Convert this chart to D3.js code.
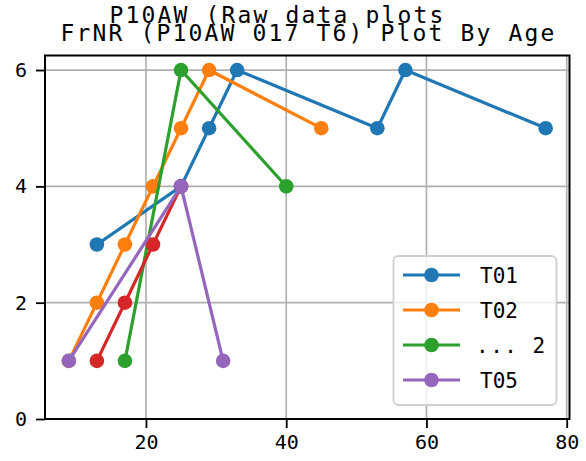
<!DOCTYPE html>
<html>
<head>
<meta charset="utf-8">
<script src="https://cdn.jsdelivr.net/npm/d3@7"></script>
<style>
  html, body { margin: 0; padding: 0; background: #fff; }
  svg { display: block; }
  text { font-family: "DejaVu Sans Mono", "Liberation Mono", monospace; fill: #000; }
</style>
</head>
<body>
<svg id="chart" width="586" height="461"></svg>
<script>
// ---- data ----
const seriesNames = ["T01", "T02", "... 2", "T04", "T05"];
const seriesColors = ["#1f77b4", "#ff7f0e", "#2ca02c", "#d62728", "#9467bd"];
const t01Ages = [13, 25, 29, 33, 53, 57, 77];
const t01Values = [3, 4, 5, 6, 5, 6, 5];
const t02Ages = [9, 13, 17, 21, 25, 29, 45];
const t02Values = [1, 2, 3, 4, 5, 6, 5];
const t03Ages = [17, 25, 40];
const t03Values = [1, 6, 4];
const t04Ages = [13, 17, 21, 25];
const t04Values = [1, 2, 3, 4];
const t05Ages = [9, 25, 31];
const t05Values = [1, 4, 1];
const legendSeries = [0, 1, 2, 4];
const xTicks = [20, 40, 60, 80];
const yTicks = [0, 2, 4, 6];
const titleTop = "P10AW (Raw data plots";
const titleMain = "FrNR (P10AW 017 T6) Plot By Age";

const series = [
  {ages: t01Ages, values: t01Values},
  {ages: t02Ages, values: t02Values},
  {ages: t03Ages, values: t03Values},
  {ages: t04Ages, values: t04Values},
  {ages: t05Ages, values: t05Values}
].map((s, i) => ({name: seriesNames[i], color: seriesColors[i],
  points: s.ages.map((a, j) => ({x: a, y: s.values[j]}))}));

// ---- layout ----
const svg = d3.select("#chart");
const pL = 45, pR = 569.5, pT = 55.5, pB = 419;
const allX = series.flatMap(s => s.points.map(p => p.x));
const xMin = d3.min(allX), xMax = d3.max(allX);
const xPad = (xMax - xMin) * 0.05;
const x = d3.scaleLinear().domain([xMin - xPad, xMax + xPad]).range([pL, pR]);
const y = d3.scaleLinear().domain([0, 6.25]).range([pB, pT]);
const monoFont = '"DejaVu Sans Mono", "Liberation Mono", monospace';

// grid
const grid = svg.append("g");
grid.selectAll("line.gx").data(xTicks).join("line")
  .attr("x1", d => x(d)).attr("x2", d => x(d)).attr("y1", pT).attr("y2", pB)
  .attr("stroke", "#b0b0b0").attr("stroke-width", 1.7);
grid.selectAll("line.gy").data(yTicks).join("line")
  .attr("y1", d => y(d)).attr("y2", d => y(d)).attr("x1", pL).attr("x2", pR)
  .attr("stroke", "#b0b0b0").attr("stroke-width", 1.7);

// series
const line = d3.line().x(d => x(d.x)).y(d => y(d.y));
series.forEach(s => {
  const g = svg.append("g");
  g.append("path").datum(s.points).attr("d", line)
    .attr("fill", "none").attr("stroke", s.color).attr("stroke-width", 3.2)
    .attr("stroke-linejoin", "round").attr("stroke-linecap", "square");
  g.selectAll("circle").data(s.points).join("circle")
    .attr("cx", d => x(d.x)).attr("cy", d => y(d.y)).attr("r", 7.3)
    .attr("fill", s.color);
});

// axes
const xAxis = svg.append("g").attr("transform", `translate(0,${pB})`)
  .call(d3.axisBottom(x).tickValues(xTicks).tickFormat(d3.format("d")).tickSize(9).tickPadding(7));
const yAxis = svg.append("g").attr("transform", `translate(${pL},0)`)
  .call(d3.axisLeft(y).tickValues(yTicks).tickFormat(d3.format("d")).tickSize(9).tickPadding(9));
[xAxis, yAxis].forEach(a => {
  a.select(".domain").remove();
  a.selectAll(".tick line").attr("stroke", "#000").attr("stroke-width", 1.8);
  a.selectAll(".tick text").attr("font-size", 20).attr("font-family", monoFont).attr("fill", "#000");
});

// frame
svg.append("rect").attr("x", pL).attr("y", pT)
  .attr("width", pR - pL).attr("height", pB - pT)
  .attr("fill", "none").attr("stroke", "#000").attr("stroke-width", 2);

// legend
const lg = svg.append("g");
lg.append("rect").attr("x", 393.5).attr("y", 256).attr("width", 163).attr("height", 149)
  .attr("rx", 5).attr("fill", "#fff").attr("fill-opacity", 0.8)
  .attr("stroke", "#d0d0d0").attr("stroke-width", 1.8);
legendSeries.forEach((si, k) => {
  const s = series[si];
  const cy = 275 + k * 35;
  lg.append("line").attr("x1", 403).attr("x2", 460).attr("y1", cy).attr("y2", cy)
    .attr("stroke", s.color).attr("stroke-width", 3.2);
  lg.append("circle").attr("cx", 431.5).attr("cy", cy).attr("r", 7.3).attr("fill", s.color);
  lg.append("text").attr("x", si === 2 ? 476 : 480).attr("y", cy + 8)
    .attr("font-size", 21).attr("xml:space", "preserve")
    .style("white-space", "pre")
    .attr("letter-spacing", si === 2 ? "1.5px" : null)
    .text(s.name);
});

// titles
svg.append("text").attr("x", 308.5).attr("y", 40.5).attr("text-anchor", "middle")
  .attr("font-size", 23).attr("letter-spacing", "2.15px")
  .style("white-space", "pre").text(titleMain);
svg.append("text").attr("x", 277.5).attr("y", 22.5).attr("text-anchor", "middle")
  .attr("font-size", 23).attr("letter-spacing", "2.15px")
  .style("white-space", "pre").text(titleTop);
</script>
</body>
</html>
